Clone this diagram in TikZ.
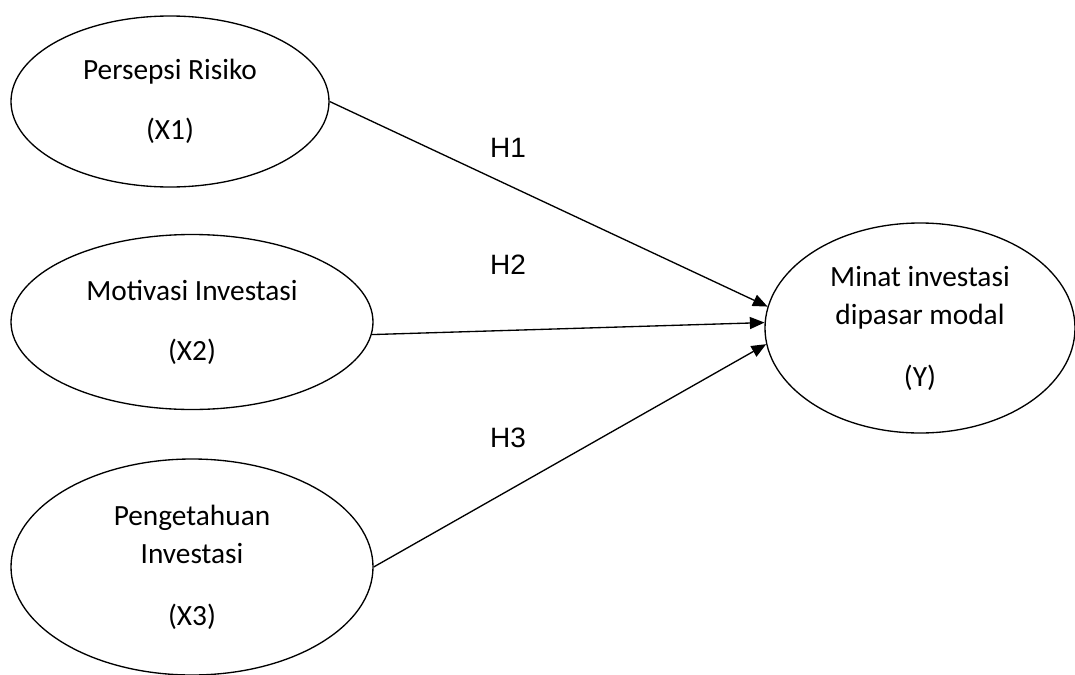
\documentclass[tikz,border=0pt]{standalone}
\usepackage{fontspec}
\setmainfont{Carlito}
\newfontfamily\arialfont{Liberation Sans}
\usetikzlibrary{shapes.geometric,arrows.meta}
\begin{document}
\begin{tikzpicture}[x=0.75pt,y=-0.75pt,
        konstruk/.style={draw,ellipse,line width=1pt,inner sep=0pt,align=center,
            font=\fontsize{22}{28.5}\selectfont},
        hlabel/.style={font=\arialfont\fontsize{21}{25}\selectfont},
        panah/.style={-{Triangle[length=11pt,width=9pt]},line width=1pt}]
        \useasboundingbox (0,0) rectangle (1075,675);
        \node[konstruk,minimum width=238.5pt,minimum height=128.25pt] (x1) at (170,101.5) {Persepsi Risiko\\[16.5pt](X1)};
        \node[konstruk,minimum width=271.5pt,minimum height=131.25pt] (x2) at (192,322) {Motivasi Investasi\\[16.5pt](X2)};
        \node[konstruk,minimum width=271.5pt,minimum height=162pt] (x3) at (192,567) {Pengetahuan\\Investasi\\[18pt](X3)};
        \node[konstruk,minimum width=232.5pt,minimum height=157.5pt] (y) at (920,328) {Minat investasi\\dipasar modal\\[18pt](Y)};

        \node[hlabel] (h1) at (508,148) {H1};
        \node[hlabel] (h2) at (508,265) {H2};
        \node[hlabel] (h3) at (508,438) {H3};

        \draw[panah] (x1.east) -- (y.172);
        \draw[panah] (x2.-4) -- (y.178);
        \draw[panah] (x3.east) -- (y.186);
    \end{tikzpicture}
\end{document}
